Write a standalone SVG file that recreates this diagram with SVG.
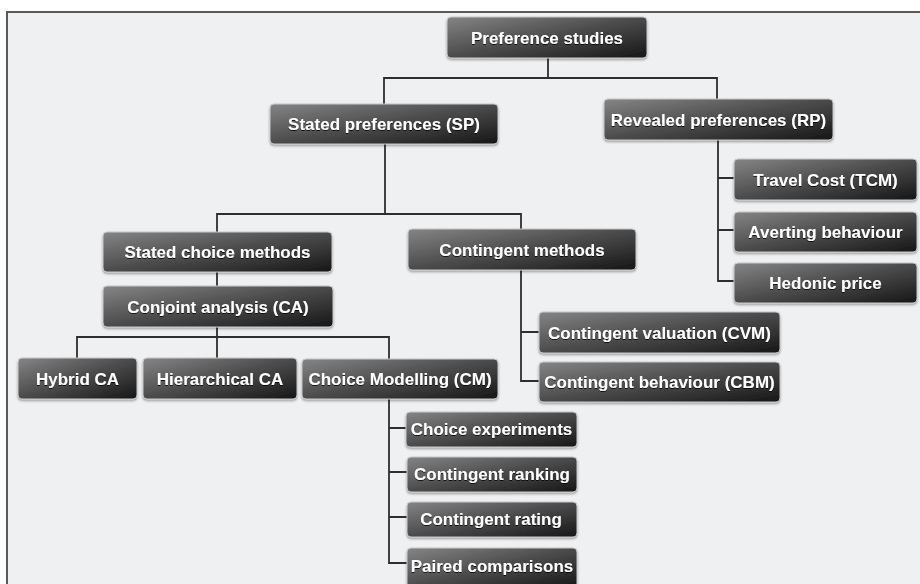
<svg xmlns="http://www.w3.org/2000/svg" width="920" height="584" viewBox="0 0 920 584">
<defs>
<linearGradient id="boxg" x1="0" y1="0" x2="1" y2="1">
<stop offset="0" stop-color="#858585"/>
<stop offset="0.5" stop-color="#4b4b4b"/>
<stop offset="1" stop-color="#161616"/>
</linearGradient>
<filter id="sh" x="-10%" y="-20%" width="120%" height="150%">
<feDropShadow dx="0" dy="1.5" stdDeviation="1" flood-color="#000" flood-opacity="0.35"/>
</filter>
<filter id="tsh" x="-5%" y="-20%" width="110%" height="150%">
<feDropShadow dx="0" dy="1" stdDeviation="0.6" flood-color="#000" flood-opacity="0.8"/>
</filter>
</defs>
<style>
.box{fill:url(#boxg);stroke:#c8c9cb;stroke-width:1;filter:url(#sh)}
.lbl{font-family:"Liberation Sans",Arial,Helvetica,sans-serif;font-weight:bold;font-size:17px;fill:#ffffff;text-anchor:middle;filter:url(#tsh)}
.con{fill:none;stroke:#2e2e2e;stroke-width:1.8}
</style>
<rect x="0" y="0" width="920" height="584" fill="#ffffff"/>
<rect x="7" y="12" width="920" height="580" fill="#eff0f2" stroke="#5a5a5a" stroke-width="2"/>
<g id="connectors">
<path class="con" d="M548 58 V78 M384 104 V78 H717 V100"/>
<path class="con" d="M385 144 V214 M217 232 V214 H521 V229"/>
<path class="con" d="M718 140 V281 H734 M718 178 H734 M718 230 H734"/>
<path class="con" d="M217 272 V286"/>
<path class="con" d="M217 327 V358 M77 358 V337 H389 V359"/>
<path class="con" d="M521 270 V381 H539 M521 332 H539"/>
<path class="con" d="M389 399 V563 H407 M389 428 H406 M389 472 H407 M389 517 H407"/>
</g>
<g id="n-preference-studies"><rect class="box" x="447" y="17" width="200" height="41" rx="4"/><text class="lbl" x="547" y="44">Preference studies</text></g>
<g id="n-sp"><rect class="box" x="270" y="104" width="228" height="40" rx="4"/><text class="lbl" x="384" y="130">Stated preferences (SP)</text></g>
<g id="n-rp"><rect class="box" x="604" y="99" width="229" height="41" rx="4"/><text class="lbl" x="718.5" y="126">Revealed preferences (RP)</text></g>
<g id="n-tcm"><rect class="box" x="734" y="159" width="183" height="41" rx="4"/><text class="lbl" x="825.5" y="186">Travel Cost (TCM)</text></g>
<g id="n-averting"><rect class="box" x="734" y="212" width="183" height="40" rx="4"/><text class="lbl" x="825.5" y="238">Averting behaviour</text></g>
<g id="n-hedonic"><rect class="box" x="734" y="263" width="183" height="40" rx="4"/><text class="lbl" x="825.5" y="289">Hedonic price</text></g>
<g id="n-stated-choice"><rect class="box" x="103" y="232" width="229" height="40" rx="4"/><text class="lbl" x="217.5" y="258">Stated choice methods</text></g>
<g id="n-contingent-methods"><rect class="box" x="408" y="229" width="228" height="41" rx="4"/><text class="lbl" x="522" y="256">Contingent methods</text></g>
<g id="n-conjoint"><rect class="box" x="103" y="286" width="230" height="41" rx="4"/><text class="lbl" x="218" y="313">Conjoint analysis (CA)</text></g>
<g id="n-hybrid"><rect class="box" x="18" y="358" width="119" height="41" rx="4"/><text class="lbl" x="77.5" y="385">Hybrid CA</text></g>
<g id="n-hierarchical"><rect class="box" x="143" y="358" width="154" height="41" rx="4"/><text class="lbl" x="220" y="385">Hierarchical CA</text></g>
<g id="n-cm"><rect class="box" x="302" y="359" width="196" height="40" rx="4"/><text class="lbl" x="400" y="385">Choice Modelling (CM)</text></g>
<g id="n-cvm"><rect class="box" x="539" y="312" width="241" height="41" rx="4"/><text class="lbl" x="659.5" y="339">Contingent valuation (CVM)</text></g>
<g id="n-cbm"><rect class="box" x="539" y="362" width="241" height="40" rx="4"/><text class="lbl" x="659.5" y="388">Contingent behaviour (CBM)</text></g>
<g id="n-choice-exp"><rect class="box" x="406" y="412" width="171" height="35" rx="4"/><text class="lbl" x="491.5" y="435">Choice experiments</text></g>
<g id="n-ranking"><rect class="box" x="407" y="457" width="170" height="35" rx="4"/><text class="lbl" x="492" y="480">Contingent ranking</text></g>
<g id="n-rating"><rect class="box" x="407" y="502" width="170" height="35" rx="4"/><text class="lbl" x="491" y="525">Contingent rating</text></g>
<g id="n-paired"><rect class="box" x="407" y="548" width="170" height="40" rx="4"/><text class="lbl" x="492" y="572">Paired comparisons</text></g>
</svg>
